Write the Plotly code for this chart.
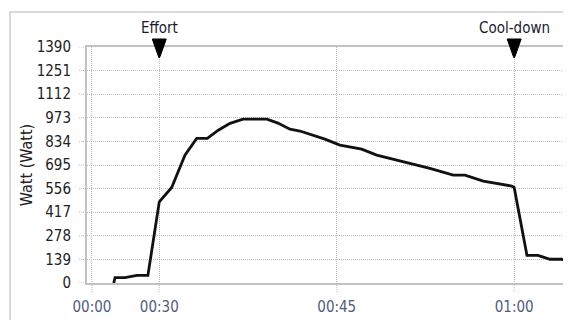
import plotly.graph_objects as go

# ---- data (x in minutes of elapsed time, y in watts) ----
time_min = [26.15, 26.26, 27.1, 28.11, 29.04, 30.0, 31.05, 32.17, 33.16, 34.06, 34.99,
            35.98, 37.08, 39.1, 40.03, 41.05, 41.89, 43.16, 44.0, 45.27, 47.11, 48.38,
            50.07, 51.19, 52.88, 54.85, 55.84, 57.39, 58.52, 59.79, 60.0, 61.08, 62.01,
            63.03, 64.04, 64.8, 65.6]
watts = [0, 32, 32, 45, 45, 478, 563, 753, 852, 852, 900,
         940, 965, 965, 942, 906, 895, 865, 847, 812, 788, 753,
         724, 708, 675, 635, 635, 600, 587, 571, 563, 163, 163,
         140, 140, 118, 108]

y_ticks = [0, 139, 278, 417, 556, 695, 834, 973, 1112, 1251, 1390]
x_tick_vals = [24.31, 30, 45, 60]
x_tick_text = ["00:00", "00:30", "00:45", "01:00"]

event_times = [30, 60]
event_labels = ["Effort", "Cool-down"]

x_range = [23.89, 65.48]
y_range = [0, 1390]

FONT = "DejaVu Sans Condensed, Liberation Sans Narrow, sans-serif"
GRID = "#bdbdbd"
DOTS = "1px,1px"
PW = 492.0   # plot width in px
PH = 236.0   # plot height in px

fig = go.Figure()
fig.add_trace(go.Scatter(x=time_min, y=watts, mode="lines",
                         line=dict(color="#111111", width=2.8),
                         hoverinfo="skip", showlegend=False))

shapes = []
# outer panel border
shapes.append(dict(type="rect", xref="paper", yref="paper",
                   x0=-77/PW, x1=1.2, y0=-0.5, y1=271/PH,
                   line=dict(color="#cfcfcf", width=1.5), layer="below"))
# dotted tick marks on y
for v in y_ticks:
    shapes.append(dict(type="line", xref="paper", yref="y", x0=-8/PW, x1=0,
                       y0=v, y1=v, line=dict(color=GRID, width=1, dash=DOTS)))
# dotted tick marks on x
for v in x_tick_vals:
    shapes.append(dict(type="line", xref="x", yref="paper", x0=v, x1=v,
                       y0=-9/PH, y1=0, line=dict(color=GRID, width=1, dash=DOTS)))
# event triangles
for t in event_times:
    shapes.append(dict(type="path", xref="x", yref="paper",
                       xsizemode="pixel", ysizemode="pixel", xanchor=t, yanchor=1,
                       path="M-7,8 L7,8 L1,-9 L0,-11 L-1,-9 Z",
                       fillcolor="#000000", line=dict(color="#000000", width=1)))

annotations = []
for t, lab in zip(event_times, event_labels):
    annotations.append(dict(x=t, y=1, xref="x", yref="paper", text=lab,
                            showarrow=False, yanchor="middle", yshift=19.5,
                            font=dict(family=FONT, size=15, color="#1a1a2e")))

fig.update_layout(
    width=571, height=320,
    margin=dict(l=79, r=0, t=39, b=45),
    paper_bgcolor="white", plot_bgcolor="white",
    shapes=shapes, annotations=annotations,
    xaxis=dict(range=x_range, tickvals=x_tick_vals, ticktext=x_tick_text,
               showgrid=True, gridcolor=GRID, griddash=DOTS, gridwidth=1,
               showline=True, linecolor="#c2c2c2", linewidth=2, mirror=True,
               ticks="", zeroline=False, ticklabelstandoff=9,
               tickfont=dict(family=FONT, size=15, color="#4e5d7e")),
    yaxis=dict(range=y_range, tickvals=y_ticks,
               showgrid=True, gridcolor=GRID, griddash=DOTS, gridwidth=1,
               showline=True, linecolor="#c2c2c2", linewidth=2,
               ticks="", zeroline=False, ticklabelstandoff=11,
               title=dict(text="Watt (Watt)", standoff=0,
                          font=dict(family=FONT, size=16, color="#222222")),
               tickfont=dict(family=FONT, size=15, color="#222222")),
)

fig.write_html("out.html")
